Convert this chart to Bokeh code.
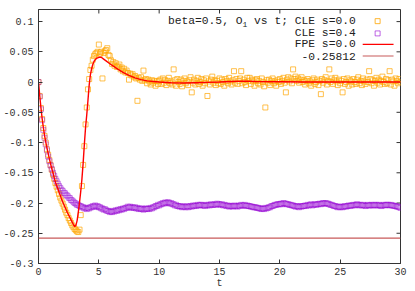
import numpy as np
from bokeh.plotting import figure
from bokeh.models import Range1d, Span, Label, BoxAnnotation, FixedTicker, ColumnDataSource
from bokeh.embed import file_html
from bokeh.resources import INLINE

# ---------------- data ----------------
t_cle = np.round(np.arange(301) * 0.1, 1)   # time grid 0.0 .. 30.0

cle_s00 = [
    0.000, -0.023, -0.043, -0.061, -0.076, -0.089, -0.100, -0.111, -0.120, -0.129,
    -0.137, -0.145, -0.153, -0.160, -0.167, -0.173, -0.179, -0.185, -0.191, -0.196,
    -0.201, -0.206, -0.211, -0.216, -0.220, -0.225, -0.229, -0.233, -0.237, -0.240,
    -0.243, -0.245, -0.247, -0.248, -0.244, -0.220, -0.172, -0.137, -0.106, -0.070,
    -0.042, -0.012, 0.005, 0.020, 0.027, 0.037, 0.043, 0.046, 0.048, 0.050,
    0.062, 0.047, 0.050, 0.006, 0.048, 0.051, 0.053, 0.056, 0.045, 0.043,
    0.036, 0.030, 0.033, 0.027, 0.031, 0.025, 0.026, 0.029, 0.021, 0.024,
    0.018, 0.022, 0.016, 0.019, 0.015, 0.004, 0.014, 0.011, 0.013, 0.008,
    0.010, 0.006, -0.031, 0.007, 0.004, 0.008, 0.002, 0.019, 0.003, 0.005,
    -0.002, 0.004, 0.001, -0.004, 0.003, -0.001, 0.002, -0.006, 0.001, -0.003,
    0.002,
    0.004, -0.003, 0.006, -0.001, 0.003, -0.005, 0.002, 0.007, -0.002, 0.001,
    -0.004, 0.021, 0.003, -0.006, 0.005, 0.000, -0.003, 0.004, -0.007, 0.002,
    0.006, -0.002, 0.001, -0.005, 0.003, 0.008, -0.017, -0.001, 0.004, -0.004,
    0.002, 0.007, -0.003, 0.000, 0.005, -0.006, 0.003, -0.002, 0.006, -0.023,
    0.001, -0.004, 0.004, 0.009, -0.001, 0.003, -0.005, 0.002, -0.002, 0.006,
    -0.003, 0.004, 0.000, -0.006, 0.005, 0.002, -0.002, 0.007, 0.001, -0.004,
    0.003, 0.018, -0.001, 0.005, -0.003, 0.002, 0.006, 0.018, -0.002, 0.004,
    0.000, -0.005, 0.007, 0.002, 0.007, -0.003, 0.004, 0.001, -0.006, 0.003,
    0.005, -0.002, 0.002, -0.004, 0.006, 0.000, -0.007, -0.042, 0.003, -0.001,
    0.004, -0.005, 0.002, 0.006, -0.002, 0.001, -0.006, 0.003, 0.000, 0.005,
    -0.003, 0.002, 0.007, -0.001, -0.017, 0.004, 0.008, 0.001, 0.006, -0.002,
    0.021, 0.005, 0.009, 0.002, 0.006, -0.001, 0.004, 0.008, 0.000, 0.003,
    -0.004, 0.002, 0.005, -0.002, 0.001, -0.006, 0.003, 0.006, -0.003, 0.000,
    0.004, -0.005, 0.002, -0.020, 0.005, -0.001, 0.003, 0.008, -0.004, 0.002,
    0.021, 0.000, 0.006, -0.003, 0.003, 0.007, 0.001, -0.005, 0.004, -0.002,
    0.002, -0.017, 0.005, -0.003, 0.000, 0.006, -0.006, 0.003, 0.001, -0.004,
    0.005, 0.000, -0.003, 0.004, 0.008, -0.002, 0.002, -0.005, 0.006, 0.001,
    -0.003, 0.004, 0.000, 0.018, 0.005, -0.002, 0.003, -0.006, 0.002, 0.007,
    -0.001, 0.004, -0.004, 0.002, 0.009, 0.000, -0.003, 0.005, -0.002, 0.003,
    0.018, -0.004, 0.004, 0.001, -0.006, 0.006, 0.002, -0.002, 0.005, 0.000,
]

cle_s04 = [
    0.000, -0.024, -0.045, -0.063, -0.079, -0.092, -0.103, -0.113, -0.123, -0.131,
    -0.138, -0.144, -0.150, -0.155, -0.160, -0.164, -0.168, -0.172, -0.175, -0.178,
    -0.180, -0.183, -0.184, -0.187, -0.188, -0.191, -0.192, -0.195, -0.196, -0.198,
    -0.200, -0.201, -0.203, -0.203, -0.205, -0.205, -0.207, -0.207, -0.209, -0.208,
    -0.210, -0.208, -0.209, -0.207, -0.207, -0.205, -0.206, -0.204, -0.206, -0.205,
    -0.207, -0.207, -0.209, -0.209, -0.211, -0.210, -0.212, -0.213, -0.213, -0.215,
    -0.214, -0.215, -0.213, -0.214, -0.212, -0.213, -0.211, -0.212, -0.210, -0.211,
    -0.209, -0.210, -0.208, -0.208, -0.206, -0.207, -0.206, -0.208, -0.207, -0.208,
    -0.207, -0.209, -0.208, -0.210, -0.209, -0.210, -0.209, -0.211, -0.210, -0.209,
    -0.210, -0.209, -0.210, -0.208, -0.209, -0.207, -0.207, -0.205, -0.205, -0.203,
    -0.204, -0.202, -0.202, -0.200, -0.201, -0.199, -0.200, -0.199, -0.199, -0.201,
    -0.200, -0.202, -0.202, -0.204, -0.203, -0.205, -0.205, -0.206, -0.205, -0.207,
    -0.206, -0.206, -0.207, -0.205, -0.207, -0.206, -0.205, -0.206, -0.204, -0.205,
    -0.204, -0.205, -0.203, -0.204, -0.203, -0.203, -0.204, -0.204, -0.205, -0.203,
    -0.204, -0.203, -0.204, -0.202, -0.203, -0.203, -0.202, -0.203, -0.201, -0.202,
    -0.202, -0.203, -0.202, -0.204, -0.203, -0.204, -0.205, -0.204, -0.206, -0.205,
    -0.205, -0.206, -0.204, -0.205, -0.205, -0.206, -0.204, -0.205, -0.203, -0.204,
    -0.204, -0.203, -0.205, -0.204, -0.205, -0.205, -0.206, -0.206, -0.207, -0.207,
    -0.207, -0.208, -0.208, -0.209, -0.209, -0.210, -0.209, -0.210, -0.208, -0.209,
    -0.208, -0.207, -0.207, -0.205, -0.205, -0.204, -0.203, -0.203, -0.202, -0.202,
    -0.202, -0.201, -0.202, -0.200, -0.201, -0.201, -0.202, -0.202, -0.203, -0.203,
    -0.204, -0.204, -0.205, -0.206, -0.205, -0.206, -0.207, -0.205, -0.206, -0.205,
    -0.205, -0.204, -0.205, -0.203, -0.204, -0.203, -0.202, -0.204, -0.203, -0.202,
    -0.203, -0.202, -0.202, -0.201, -0.202, -0.201, -0.200, -0.201, -0.200, -0.201,
    -0.201, -0.202, -0.203, -0.203, -0.204, -0.205, -0.205, -0.206, -0.207, -0.206,
    -0.207, -0.206, -0.207, -0.206, -0.205, -0.206, -0.205, -0.204, -0.205, -0.204,
    -0.204, -0.203, -0.204, -0.203, -0.202, -0.203, -0.204, -0.203, -0.204, -0.203,
    -0.204, -0.205, -0.204, -0.203, -0.204, -0.204, -0.203, -0.204, -0.203, -0.204,
    -0.203, -0.204, -0.203, -0.204, -0.205, -0.204, -0.203, -0.204, -0.203, -0.203,
    -0.203, -0.204, -0.203, -0.204, -0.204, -0.205, -0.205, -0.206, -0.206, -0.207,
    -0.208,
]

fpe_t = [0, 0.1, 0.2, 0.3, 0.4, 0.5, 0.6, 0.7, 0.8, 0.9, 1.0, 1.1, 1.2, 1.3, 1.4, 1.5,
         1.6, 1.7, 1.8, 1.9, 2.0, 2.2, 2.4, 2.6, 2.8, 2.9, 3.0, 3.1, 3.2, 3.3, 3.4, 3.5,
         3.6, 3.7, 3.8, 3.9, 4.0, 4.1, 4.2, 4.3, 4.4, 4.5, 4.6, 4.7, 4.8, 4.9, 5.0, 5.2,
         5.4, 5.6, 5.8, 6.0, 6.3, 6.6, 7.0, 7.5, 8.0, 8.5, 9.0, 9.5, 10, 11, 12, 13, 14,
         15, 16, 17, 18, 20, 22, 25, 28, 30]
fpe_s00 = [0, -0.022, -0.042, -0.060, -0.075, -0.088, -0.099, -0.109, -0.118, -0.127,
           -0.135, -0.143, -0.150, -0.158, -0.165, -0.171, -0.176, -0.182, -0.187, -0.193,
           -0.198, -0.207, -0.216, -0.224, -0.232, -0.236, -0.239, -0.237, -0.229, -0.215,
           -0.199, -0.181, -0.160, -0.134, -0.103, -0.075, -0.054, -0.030, -0.005, 0.012,
           0.022, 0.029, 0.034, 0.037, 0.039, 0.040, 0.041, 0.041, 0.038, 0.035, 0.032,
           0.029, 0.025, 0.021, 0.016, 0.011, 0.007, 0.004, 0.002, 0.001, 0.000, -0.001,
           -0.0015, -0.001, -0.0005, 0.000, 0.001, 0.0015, 0.001, 0.0005, 0.000, 0.000,
           0.000, 0.000]

const_value = -0.25812

x_ticks = [0, 5, 10, 15, 20, 25, 30]
y_ticks = [0.1, 0.05, 0, -0.05, -0.1, -0.15, -0.2, -0.25, -0.3]
y_tick_labels = ["0.1", "0.05", "0", "-0.05", "-0.1", "-0.15", "-0.2", "-0.25", "-0.3"]
legend_labels = ["CLE s=0.0", "CLE s=0.4", "FPE s=0.0", "-0.25812"]
title_head, title_sub, title_tail = "beta=0.5, O", "1", "vs t; "

assert len(cle_s00) == len(t_cle) and len(cle_s04) == len(t_cle)
assert len(fpe_t) == len(fpe_s00)

# ---------------- style ----------------
FONT = "Liberation Mono"
C_ORANGE = "#ffa500"
C_PURPLE = "#9400d3"
C_RED = "#ff0000"
C_CONST = "#c85a5a"
AX = "#333333"
MSIZE = 5

X0, X1, Y0, Y1 = 0, 30, -0.3, 0.12
W, H = 415, 291
ML, MR, MT, MB = 36, 15, 9, 27
FW, FH = W - ML - MR, H - MT - MB
TICK = 4

def dx(px):  # px from frame left -> data x
    return X0 + px * (X1 - X0) / FW

def dy(px):  # px from frame top -> data y
    return Y1 - px * (Y1 - Y0) / FH

p = figure(width=W, height=H, x_range=Range1d(X0, X1), y_range=Range1d(Y0, Y1),
           output_backend="svg", toolbar_location=None,
           min_border_left=ML, min_border_right=MR, min_border_top=MT, min_border_bottom=MB)
p.grid.visible = False
p.outline_line_color = AX

for ax in p.xaxis:
    ax.ticker = FixedTicker(ticks=x_ticks)
    ax.major_label_text_font = FONT
    ax.major_label_text_font_size = "10px"
    ax.major_label_text_color = AX
    ax.major_label_standoff = 4
    ax.major_tick_in = TICK
    ax.major_tick_out = 0
    ax.minor_tick_in = 0
    ax.minor_tick_out = 0
    ax.axis_line_color = AX
    ax.major_tick_line_color = AX
    ax.axis_label = "t"
    ax.axis_label_text_font = FONT
    ax.axis_label_text_font_size = "10px"
    ax.axis_label_text_font_style = "normal"
    ax.axis_label_text_color = AX
    ax.axis_label_standoff = 0

for ax in p.yaxis:
    ax.ticker = FixedTicker(ticks=y_ticks)
    ax.major_label_overrides = {v: s for v, s in zip(y_ticks, y_tick_labels)}
    ax.major_label_text_font = FONT
    ax.major_label_text_font_size = "10px"
    ax.major_label_text_color = AX
    ax.major_label_standoff = 5
    ax.major_tick_in = TICK
    ax.major_tick_out = 0
    ax.minor_tick_in = 0
    ax.minor_tick_out = 0
    ax.axis_line_color = AX
    ax.major_tick_line_color = AX

# mirrored (gnuplot style) ticks on the top and right borders
p.segment(x0=x_ticks, x1=x_ticks, y0=[Y1] * len(x_ticks), y1=[dy(TICK)] * len(x_ticks),
          line_color=AX, line_width=1)
p.segment(x0=[X1] * len(y_ticks), x1=[dx(FW - TICK)] * len(y_ticks), y0=y_ticks, y1=y_ticks,
          line_color=AX, line_width=1)

# ---------------- series ----------------
src00 = ColumnDataSource(dict(t=t_cle, v=cle_s00))
src04 = ColumnDataSource(dict(t=t_cle, v=cle_s04))
srcf = ColumnDataSource(dict(t=fpe_t, v=fpe_s00))

p.scatter("t", "v", source=src00, marker="square", size=MSIZE, fill_color=None,
          line_color=C_ORANGE, line_alpha=0.7, line_width=1)
p.scatter("t", "v", source=src04, marker="square", size=MSIZE, fill_color=None,
          line_color=C_PURPLE, line_alpha=0.45, line_width=1)
p.line("t", "v", source=srcf, line_color=C_RED, line_width=1.4)
p.add_layout(Span(location=const_value, dimension="width", line_color=C_CONST, line_width=1.2))

# ---------------- legend (gnuplot style: text left, sample right) ----------------
LFS = 11.3
CW = 0.6 * LFS
text_right = dx(319)
rows = [11.7, 24.0, 35.0, 46.7]
samp_l, samp_r, samp_c = 326, 357, 341

lt = dict(text_font=FONT, text_font_size=f"{LFS}px", text_color="#222222",
          text_baseline="middle")
tail = title_tail + legend_labels[0]
p.add_layout(Label(x=text_right, y=dy(rows[0]), text=tail, text_align="right", **lt))
sub_right = -(len(tail) * CW + CW)
p.add_layout(Label(x=text_right, y=dy(rows[0]), x_offset=sub_right, y_offset=-3,
                   text=title_sub, text_align="right", text_font=FONT, text_font_size="8px",
                   text_color="#222222", text_baseline="middle"))
p.add_layout(Label(x=text_right, y=dy(rows[0]), x_offset=sub_right - 4.8, text=title_head,
                   text_align="right", **lt))
for r, lab in zip(rows[1:], legend_labels[1:]):
    p.add_layout(Label(x=text_right, y=dy(r), text=lab, text_align="right", **lt))

half = MSIZE / 2
for r, col, alpha in [(rows[0], C_ORANGE, 0.8), (rows[1], C_PURPLE, 0.6)]:
    p.add_layout(BoxAnnotation(left=dx(samp_c - half), right=dx(samp_c + half),
                               top=dy(r - half), bottom=dy(r + half), fill_color=None,
                               line_color=col, line_alpha=alpha, line_width=1))
for r, col, lw in [(rows[2], C_RED, 1.4), (rows[3], C_CONST, 1.2)]:
    p.add_layout(BoxAnnotation(left=dx(samp_l), right=dx(samp_r),
                               top=dy(r - lw / 2), bottom=dy(r + lw / 2), fill_color=col,
                               fill_alpha=1, line_color=None))

open("out.html", "w").write(file_html(p, INLINE))
